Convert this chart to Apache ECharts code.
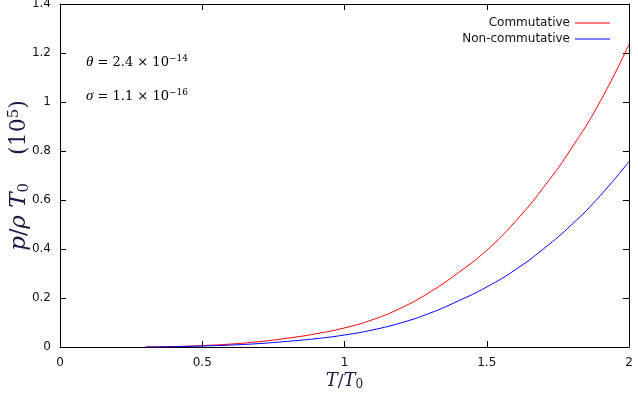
<!DOCTYPE html>
<html>
<head>
<meta charset="utf-8">
<script src="https://cdn.jsdelivr.net/npm/echarts@6/dist/echarts.min.js"></script>
<style>
  html, body { margin: 0; padding: 0; background: #fff; }
  #chart { width: 638px; height: 394px; }
</style>
</head>
<body>
<div id="chart"></div>
<script>
// T / T0 sample points
const tValues = [0.3, 0.4, 0.5, 0.6, 0.7, 0.8, 0.9, 1.0, 1.1, 1.2, 1.3, 1.4, 1.5, 1.6, 1.7, 1.8, 1.9, 2.0];
// p / rho T0 (x 10^5)
const commutative = [0, 0.002, 0.006, 0.012, 0.022, 0.036, 0.054, 0.078, 0.112, 0.16, 0.224, 0.303, 0.395, 0.512, 0.652, 0.815, 1.005, 1.235];
const nonCommutative = [0, 0.001, 0.004, 0.008, 0.014, 0.023, 0.034, 0.049, 0.07, 0.099, 0.138, 0.188, 0.245, 0.315, 0.401, 0.501, 0.619, 0.757];
const seriesNames = ['Commutative', 'Non-commutative'];
const seriesColors = ['#ff0000', '#0000ff'];

const chart = echarts.init(document.getElementById('chart'));

const labelFont = { fontFamily: 'DejaVu Sans', fontSize: 12, color: '#111' };
const ink = '#1a1a40';
function mathRich(size) {
    return {
        i: { fontFamily: 'DejaVu Serif', fontStyle: 'italic', fontSize: size, color: ink },
        r: { fontFamily: 'DejaVu Serif', fontSize: size - 1, color: ink },
        sub: { fontFamily: 'DejaVu Serif', fontSize: Math.round(size * 0.65), color: ink, padding: [Math.round(size * 0.4), 0, 0, 0] },
        sup: { fontFamily: 'DejaVu Serif', fontSize: Math.round(size * 0.65), color: ink, padding: [0, 0, Math.round(size * 0.45), 0] }
    };
}
const noteRich = {
    i: { fontFamily: 'Liberation Serif', fontStyle: 'italic', fontSize: 15, color: '#111' },
    r: { fontFamily: 'DejaVu Serif', fontSize: 13, color: '#111' },
    sup: { fontFamily: 'DejaVu Serif', fontSize: 9, color: '#111', padding: [0, 0, 8, 0] }
};

function toPairs(vals) {
    return tValues.map((t, i) => [t, vals[i]]);
}

// gnuplot style: ticks inside, mirrored on top / right
function ticks() {
    return { show: true, inside: true, length: 6, lineStyle: { color: '#000', width: 1 } };
}
function line() {
    return { show: true, onZero: false, lineStyle: { color: '#000', width: 1 } };
}

const option = {
    animation: false,
    backgroundColor: '#fff',
    grid: { left: 60, right: 9, top: 4, bottom: 47, outerBoundsMode: 'none' },
    legend: [
        {
            data: [{ name: seriesNames[0], icon: 'rect' }],
            right: 23, top: 12, align: 'right', itemWidth: 35, itemHeight: 1, itemGap: 4,
            textStyle: labelFont
        },
        {
            data: [{ name: seriesNames[1], icon: 'rect' }],
            right: 23, top: 28, align: 'right', itemWidth: 35, itemHeight: 1, itemGap: 4,
            textStyle: labelFont
        }
    ],
    xAxis: [
        {
            type: 'value', min: 0, max: 2, interval: 0.5, position: 'bottom',
            axisLine: line(), axisTick: ticks(), splitLine: { show: false },
            axisLabel: Object.assign({ margin: 10 }, labelFont),
            name: '{i|T}{r|/}{i|T}{sub|0}', nameLocation: 'middle', nameGap: 25, nameMoveOverlap: false,
            nameTextStyle: { rich: mathRich(18) }
        },
        {
            type: 'value', min: 0, max: 2, interval: 0.5, position: 'top',
            axisLine: line(), axisTick: ticks(), splitLine: { show: false },
            axisLabel: { show: false }
        }
    ],
    yAxis: [
        {
            type: 'value', min: 0, max: 1.4, interval: 0.2, position: 'left',
            axisLine: line(), axisTick: ticks(), splitLine: { show: false },
            axisLabel: Object.assign({ margin: 9 }, labelFont),
            name: '{i|p}{r|/}{i|ρ T}{sub|0}{r|    (10}{sup|5}{r|)}', nameLocation: 'middle', nameGap: 28,
            nameRotate: 90, nameMoveOverlap: false,
            nameTextStyle: { rich: mathRich(23) }
        },
        {
            type: 'value', min: 0, max: 1.4, interval: 0.2, position: 'right',
            axisLine: line(), axisTick: ticks(), splitLine: { show: false },
            axisLabel: { show: false }
        }
    ],
    graphic: [
        {
            type: 'text', left: 86, top: 54,
            style: { text: '{i|θ}{r| = 2.4 × 10}{sup|−14}', rich: noteRich }
        },
        {
            type: 'text', left: 86, top: 88,
            style: { text: '{i|σ}{r| = 1.1 × 10}{sup|−16}', rich: noteRich }
        }
    ],
    series: [
        {
            name: seriesNames[0], type: 'line', data: toPairs(commutative), xAxisIndex: 0, yAxisIndex: 0,
            smooth: 0.5, showSymbol: false, symbol: 'none',
            lineStyle: { color: seriesColors[0], width: 1 }, itemStyle: { color: seriesColors[0] }
        },
        {
            name: seriesNames[1], type: 'line', data: toPairs(nonCommutative), xAxisIndex: 0, yAxisIndex: 0,
            smooth: 0.5, showSymbol: false, symbol: 'none',
            lineStyle: { color: seriesColors[1], width: 1 }, itemStyle: { color: seriesColors[1] }
        }
    ]
};

chart.setOption(option);
window.addEventListener('resize', chart.resize);
</script>
</body>
</html>
